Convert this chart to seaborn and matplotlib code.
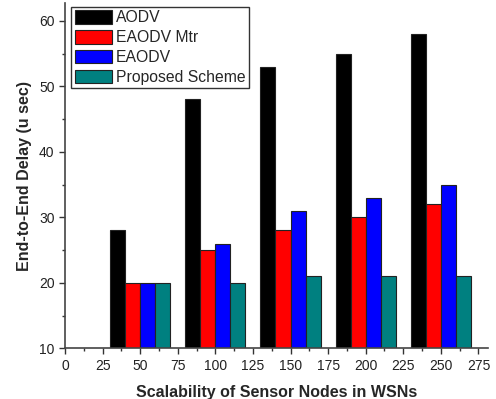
import matplotlib
matplotlib.use("Agg")
import matplotlib.pyplot as plt
import seaborn as sns
import pandas as pd
from matplotlib.ticker import MultipleLocator

nodes = [50, 100, 150, 200, 250]
series = ["AODV", "EAODV Mtr", "EAODV", "Proposed Scheme"]
aodv = [28, 48, 53, 55, 58]
eaodv_mtr = [20, 25, 28, 30, 32]
eaodv = [20, 26, 31, 33, 35]
proposed = [20, 20, 21, 21, 21]
colors = ["#000000", "#FF0000", "#0000FF", "#008080"]

rows = []
for name, vals in zip(series, [aodv, eaodv_mtr, eaodv, proposed]):
    for n, v in zip(nodes, vals):
        rows.append({"nodes": n, "delay": v, "series": name})
df = pd.DataFrame(rows)

sns.set_style("ticks")
plt.rcParams['font.family'] = ['Liberation Sans', 'DejaVu Sans']

fig = plt.figure(figsize=(4.96, 3.99), dpi=100)
ax = fig.add_axes([0.131, 0.127, 0.853, 0.865])

sns.barplot(data=df, x="nodes", y="delay", hue="series", hue_order=series,
            palette=colors, native_scale=True, width=0.8, dodge=True,
            edgecolor="#222222", linewidth=0.8, ax=ax, saturation=1)

ax.set_xlim(0, 281.4)
ax.set_ylim(10, 62.7)
ax.xaxis.set_major_locator(MultipleLocator(25))
ax.xaxis.set_minor_locator(MultipleLocator(12.5))
ax.yaxis.set_major_locator(MultipleLocator(10))
ax.yaxis.set_minor_locator(MultipleLocator(5))
ax.tick_params(axis="both", which="major", direction="out", length=4, width=1,
               labelsize=10, colors="#333333", labelcolor="#222222")
ax.tick_params(axis="both", which="minor", direction="out", length=2.5, width=1,
               colors="#333333")
for s in ["top", "right"]:
    ax.spines[s].set_visible(False)
for s in ["left", "bottom"]:
    ax.spines[s].set_color("#444444")
    ax.spines[s].set_linewidth(1.2)

ax.set_xlabel("Scalability of Sensor Nodes in WSNs", fontsize=11.5, fontweight="bold", labelpad=9)
ax.set_ylabel("End-to-End Delay (u sec)", fontsize=11.5, fontweight="bold", labelpad=5)

leg = ax.legend(loc="upper left", bbox_to_anchor=(0.008, 0.998), fontsize=11.3,
                handlelength=2.35, handleheight=0.95, handletextpad=0.3,
                labelspacing=0.3, borderpad=0.2, borderaxespad=0.2,
                frameon=True, fancybox=False, framealpha=1)
leg.get_frame().set_edgecolor("#333333")
leg.get_frame().set_linewidth(1.0)

fig.savefig("out.png", dpi=100)
